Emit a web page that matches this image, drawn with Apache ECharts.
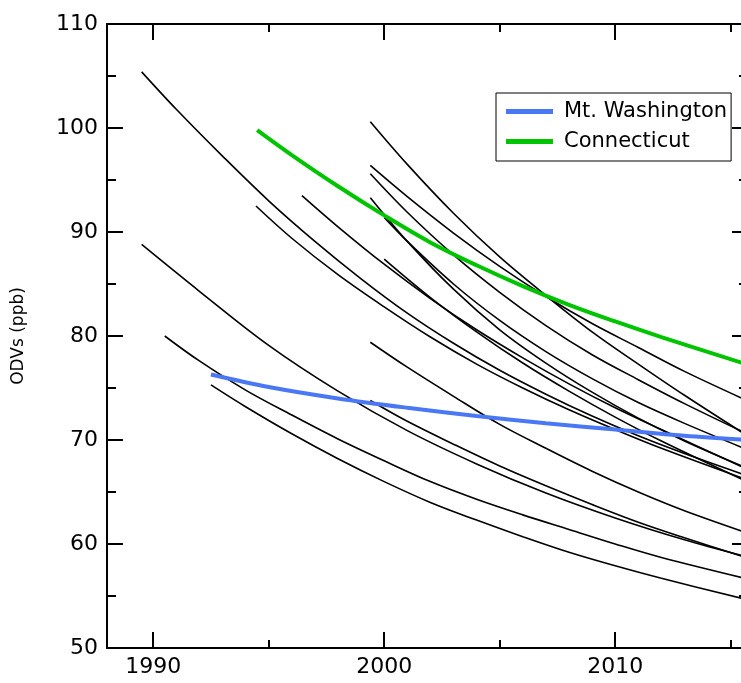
<!DOCTYPE html>
<html>
<head>
<meta charset="utf-8">
<script src="https://cdn.jsdelivr.net/npm/echarts@6.0.0/dist/echarts.min.js"></script>
<style>
  html, body { margin: 0; padding: 0; background: #fff; overflow: hidden; }
  #chart { width: 741px; height: 683px; }
</style>
</head>
<body>
<div id="chart"></div>
<script>
// ---- Data (year, ODV ppb) ----
const curveA = [[1989.5,105.4],[1991,101.8],[1993,97.3],[1995,93.0],[1997,89.1],[1999,85.5],[2001,82.2],[2003,79.3],[2005,76.7],[2007,74.4],[2009,72.3],[2011,70.4],[2013,68.7],[2015.8,66.5]];
const curveB = [[1989.5,88.8],[1992,84.3],[1995,79.1],[1998,74.7],[2001,70.9],[2004,67.7],[2007,64.9],[2010,62.5],[2013,60.4],[2015.8,58.7]];
const curveC = [[1990.5,80.0],[1992,77.6],[1994,74.8],[1996,72.4],[1998,70.1],[2000,68.0],[2002,66.0],[2004,64.3],[2006,62.8],[2008,61.4],[2010,60.0],[2012,58.7],[2015.8,56.6]];
const curveE = [[1992.5,75.3],[1994,73.2],[1996,70.6],[1998,68.2],[2000,66.0],[2002,64.0],[2004,62.3],[2006,60.7],[2008,59.2],[2010,57.9],[2012,56.7],[2015.8,54.6]];
const curveF = [[1994.45,92.5],[1996,89.4],[1998,85.9],[2000,82.8],[2002,79.9],[2004,77.3],[2006,75.0],[2008,72.9],[2010,71.0],[2012,69.2],[2015.8,66.1]];
const curveG = [[1996.44,93.5],[1998,90.5],[2000,86.9],[2002,83.6],[2004,80.6],[2006,77.9],[2008,75.4],[2010,73.1],[2012,71.0],[2015.8,67.1]];
const curveH = [[1999.4,100.6],[2001,96.5],[2003,91.8],[2005,87.6],[2007,83.9],[2009,80.4],[2011,77.3],[2013,74.3],[2015.8,70.3]];
const curveI = [[1999.4,96.4],[2001,93.4],[2003,89.9],[2005,86.7],[2007,83.8],[2009,81.2],[2011,78.9],[2013,76.6],[2015.8,73.7]];
const curveJ = [[1999.4,95.6],[2001,91.9],[2003,87.8],[2005,84.2],[2007,81.0],[2009,78.2],[2011,75.8],[2013,73.5],[2015.8,70.5]];
const curveK = [[1999.4,93.3],[2001,89.1],[2003,84.5],[2005,80.6],[2007,77.4],[2009,74.6],[2011,72.1],[2013,69.9],[2015.8,67.2]];
const curveL = [[2000,91.4],[2001,89.1],[2003,85.0],[2005,81.5],[2007,78.5],[2009,75.9],[2011,73.6],[2013,71.6],[2015.8,69.0]];
const curveM = [[2000,87.4],[2002,83.7],[2004,80.4],[2006,77.4],[2008,74.7],[2010,72.2],[2012,69.9],[2015.8,65.9]];
const curveN = [[1999.4,79.4],[2001,77.0],[2003,74.2],[2005,71.5],[2007,69.2],[2009,67.0],[2011,65.0],[2013,63.2],[2015.8,61.0]];
const curveO = [[1999.4,73.8],[2001,71.8],[2003,69.6],[2005,67.5],[2007,65.6],[2009,63.8],[2011,62.1],[2013,60.6],[2015.8,58.6]];
const mtWashington = [[1992.5,76.3],[1995,75.1],[1998,74.0],[2001,73.1],[2004,72.3],[2007,71.6],[2010,71.0],[2013,70.4],[2015.8,70.0]];
const connecticut = [[1994.5,99.8],[1996,97.4],[1998,94.4],[2000,91.6],[2002,89.0],[2004,86.8],[2006,84.8],[2008,83.0],[2010,81.4],[2012,79.9],[2015.8,77.2]];

const xMajorTicks = [1990, 2000, 2010];
const xMinorTicks = [1995, 2005, 2015];
const yName = 'ODVs (ppb)';
const legendNames = ['Mt. Washington', 'Connecticut'];

const blackCurves = [curveA, curveB, curveC, curveE, curveF, curveG, curveH, curveI, curveJ, curveK, curveL, curveM, curveN, curveO];

const FONT = 'DejaVu Sans';
const X_MIN = 1988, X_MAX = 2015.75;

function xAx(pos, ticks, len, showLine, showLabel) {
  return {
    type: 'value', position: pos, min: X_MIN, max: X_MAX,
    axisLine: { show: showLine, onZero: false, lineStyle: { color: '#000', width: 2 } },
    axisTick: { show: true, inside: true, length: len, customValues: ticks, lineStyle: { color: '#000', width: 2 } },
    axisLabel: { show: showLabel, customValues: ticks, fontSize: 22, fontFamily: FONT, color: '#000', margin: 8,
                 formatter: v => String(v) },
    splitLine: { show: false }
  };
}
function yAx(pos, showLabel) {
  return {
    type: 'value', position: pos, min: 50, max: 110, interval: 10,
    name: showLabel ? yName : '', nameLocation: 'middle', nameGap: 80, nameRotate: 90,
    nameTextStyle: { fontSize: 17, fontFamily: FONT, color: '#000' },
    axisLine: { show: true, onZero: false, lineStyle: { color: '#000', width: 2 } },
    axisTick: { show: true, inside: true, length: 16, lineStyle: { color: '#000', width: 2 } },
    minorTick: { show: true, splitNumber: 2, length: 9, lineStyle: { color: '#000', width: 2 } },
    axisLabel: { show: showLabel, fontSize: 22, fontFamily: FONT, color: '#000', margin: 9 },
    splitLine: { show: false }, minorSplitLine: { show: false }
  };
}

const series = blackCurves.map(d => ({
  type: 'line', data: d, xAxisIndex: 0, yAxisIndex: 0, symbol: 'none', smooth: 0.35,
  lineStyle: { color: '#000', width: 1.6 }, itemStyle: { color: '#000' }, z: 2, silent: true
}));
series.push({
  name: legendNames[0], type: 'line', data: mtWashington, symbol: 'none', smooth: 0.35,
  lineStyle: { color: '#4a78f5', width: 4 }, itemStyle: { color: '#4a78f5' }, z: 3
});
series.push({
  name: legendNames[1], type: 'line', data: connecticut, symbol: 'none', smooth: 0.35,
  lineStyle: { color: '#00c400', width: 4 }, itemStyle: { color: '#00c400' }, z: 3
});

const chart = echarts.init(document.getElementById('chart'), null, { renderer: 'canvas' });
chart.setOption({
  animation: false,
  backgroundColor: '#fff',
  grid: { left: 107, top: 24, width: 641, height: 624, containLabel: false, outerBoundsMode: 'none' },
  xAxis: [
    xAx('bottom', xMajorTicks, 16, true, true),
    xAx('bottom', xMinorTicks, 8, false, false),
    xAx('top', xMajorTicks, 16, true, false),
    xAx('top', xMinorTicks, 8, false, false)
  ],
  yAxis: [ yAx('left', true), yAx('right', false) ],
  legend: {
    data: legendNames, orient: 'vertical', left: 496, top: 93,
    borderColor: '#000', borderWidth: 1, padding: [8, 4, 9, 10],
    itemWidth: 47, itemHeight: 5, itemGap: 9, icon: 'rect',
    backgroundColor: '#fff',
    textStyle: { fontSize: 21, fontFamily: FONT, color: '#000', padding: [0, 0, 0, 6], lineHeight: 21 }
  },
  series: series
});
</script>
</body>
</html>
